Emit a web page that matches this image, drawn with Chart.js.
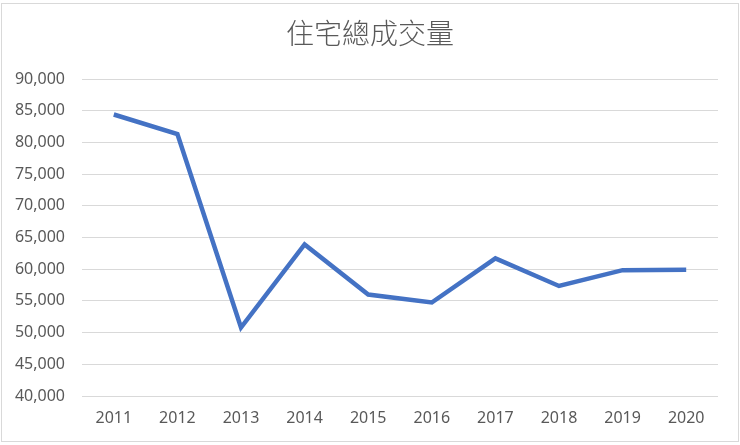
<!DOCTYPE html>
<html>
<head>
<meta charset="utf-8">
<script src="https://cdn.jsdelivr.net/npm/chart.js@4"></script>
<style>
  html, body { margin: 0; padding: 0; background: #fff; }
  #wrap { position: relative; width: 740px; height: 445px; }
  #frame { position: absolute; left: 1px; top: 3px; width: 736px; height: 437px; border: 1px solid #d9d9d9; pointer-events: none; }
</style>
</head>
<body>
<div id="wrap">
  <canvas id="chart" width="740" height="445"></canvas>
  <div id="frame"></div>
</div>
<script>
// data
const years = ['2011', '2012', '2013', '2014', '2015', '2016', '2017', '2018', '2019', '2020'];
const volumes = [84400, 81300, 50800, 63900, 56000, 54750, 61700, 57350, 59850, 59900];
const chartTitle = '住宅總成交量';

const tickFont = { family: "'Noto Sans', 'Liberation Sans', sans-serif", size: 16 };

new Chart(document.getElementById('chart'), {
  type: 'line',
  data: {
    labels: years,
    datasets: [{
      label: chartTitle,
      data: volumes,
      borderColor: '#4472C4',
      borderWidth: 4.5,
      pointRadius: 0,
      tension: 0,
      fill: false
    }]
  },
  options: {
    responsive: false,
    animation: false,
    layout: { padding: 0 },
    plugins: {
      legend: { display: false },
      tooltip: { enabled: false },
      title: {
        display: true,
        text: chartTitle,
        color: '#595959',
        font: { family: "'Noto Sans CJK TC', sans-serif", size: 28, weight: '300' },
        padding: { top: 17, bottom: 28.4 }
      }
    },
    scales: {
      x: {
        offset: true,
        grid: { display: false, drawTicks: false },
        border: { display: false },
        ticks: { color: '#595959', font: tickFont, padding: 13, maxRotation: 0 },
        afterFit: s => { s.height = 49; }
      },
      y: {
        min: 40000,
        max: 90000,
        grid: { color: '#d9d9d9', lineWidth: 1, drawTicks: false },
        border: { display: false },
        ticks: {
          stepSize: 5000,
          color: '#595959',
          font: tickFont,
          padding: 17,
          callback: v => v.toLocaleString('en-US')
        },
        afterFit: s => { s.width = 82; }
      },
      // empty right-hand axis, only reserves the right margin so the title stays centred
      yRight: {
        position: 'right',
        display: true,
        grid: { display: false, drawTicks: false },
        border: { display: false },
        ticks: { display: false },
        afterFit: s => { s.width = 22; }
      }
    }
  }
});
</script>
</body>
</html>
